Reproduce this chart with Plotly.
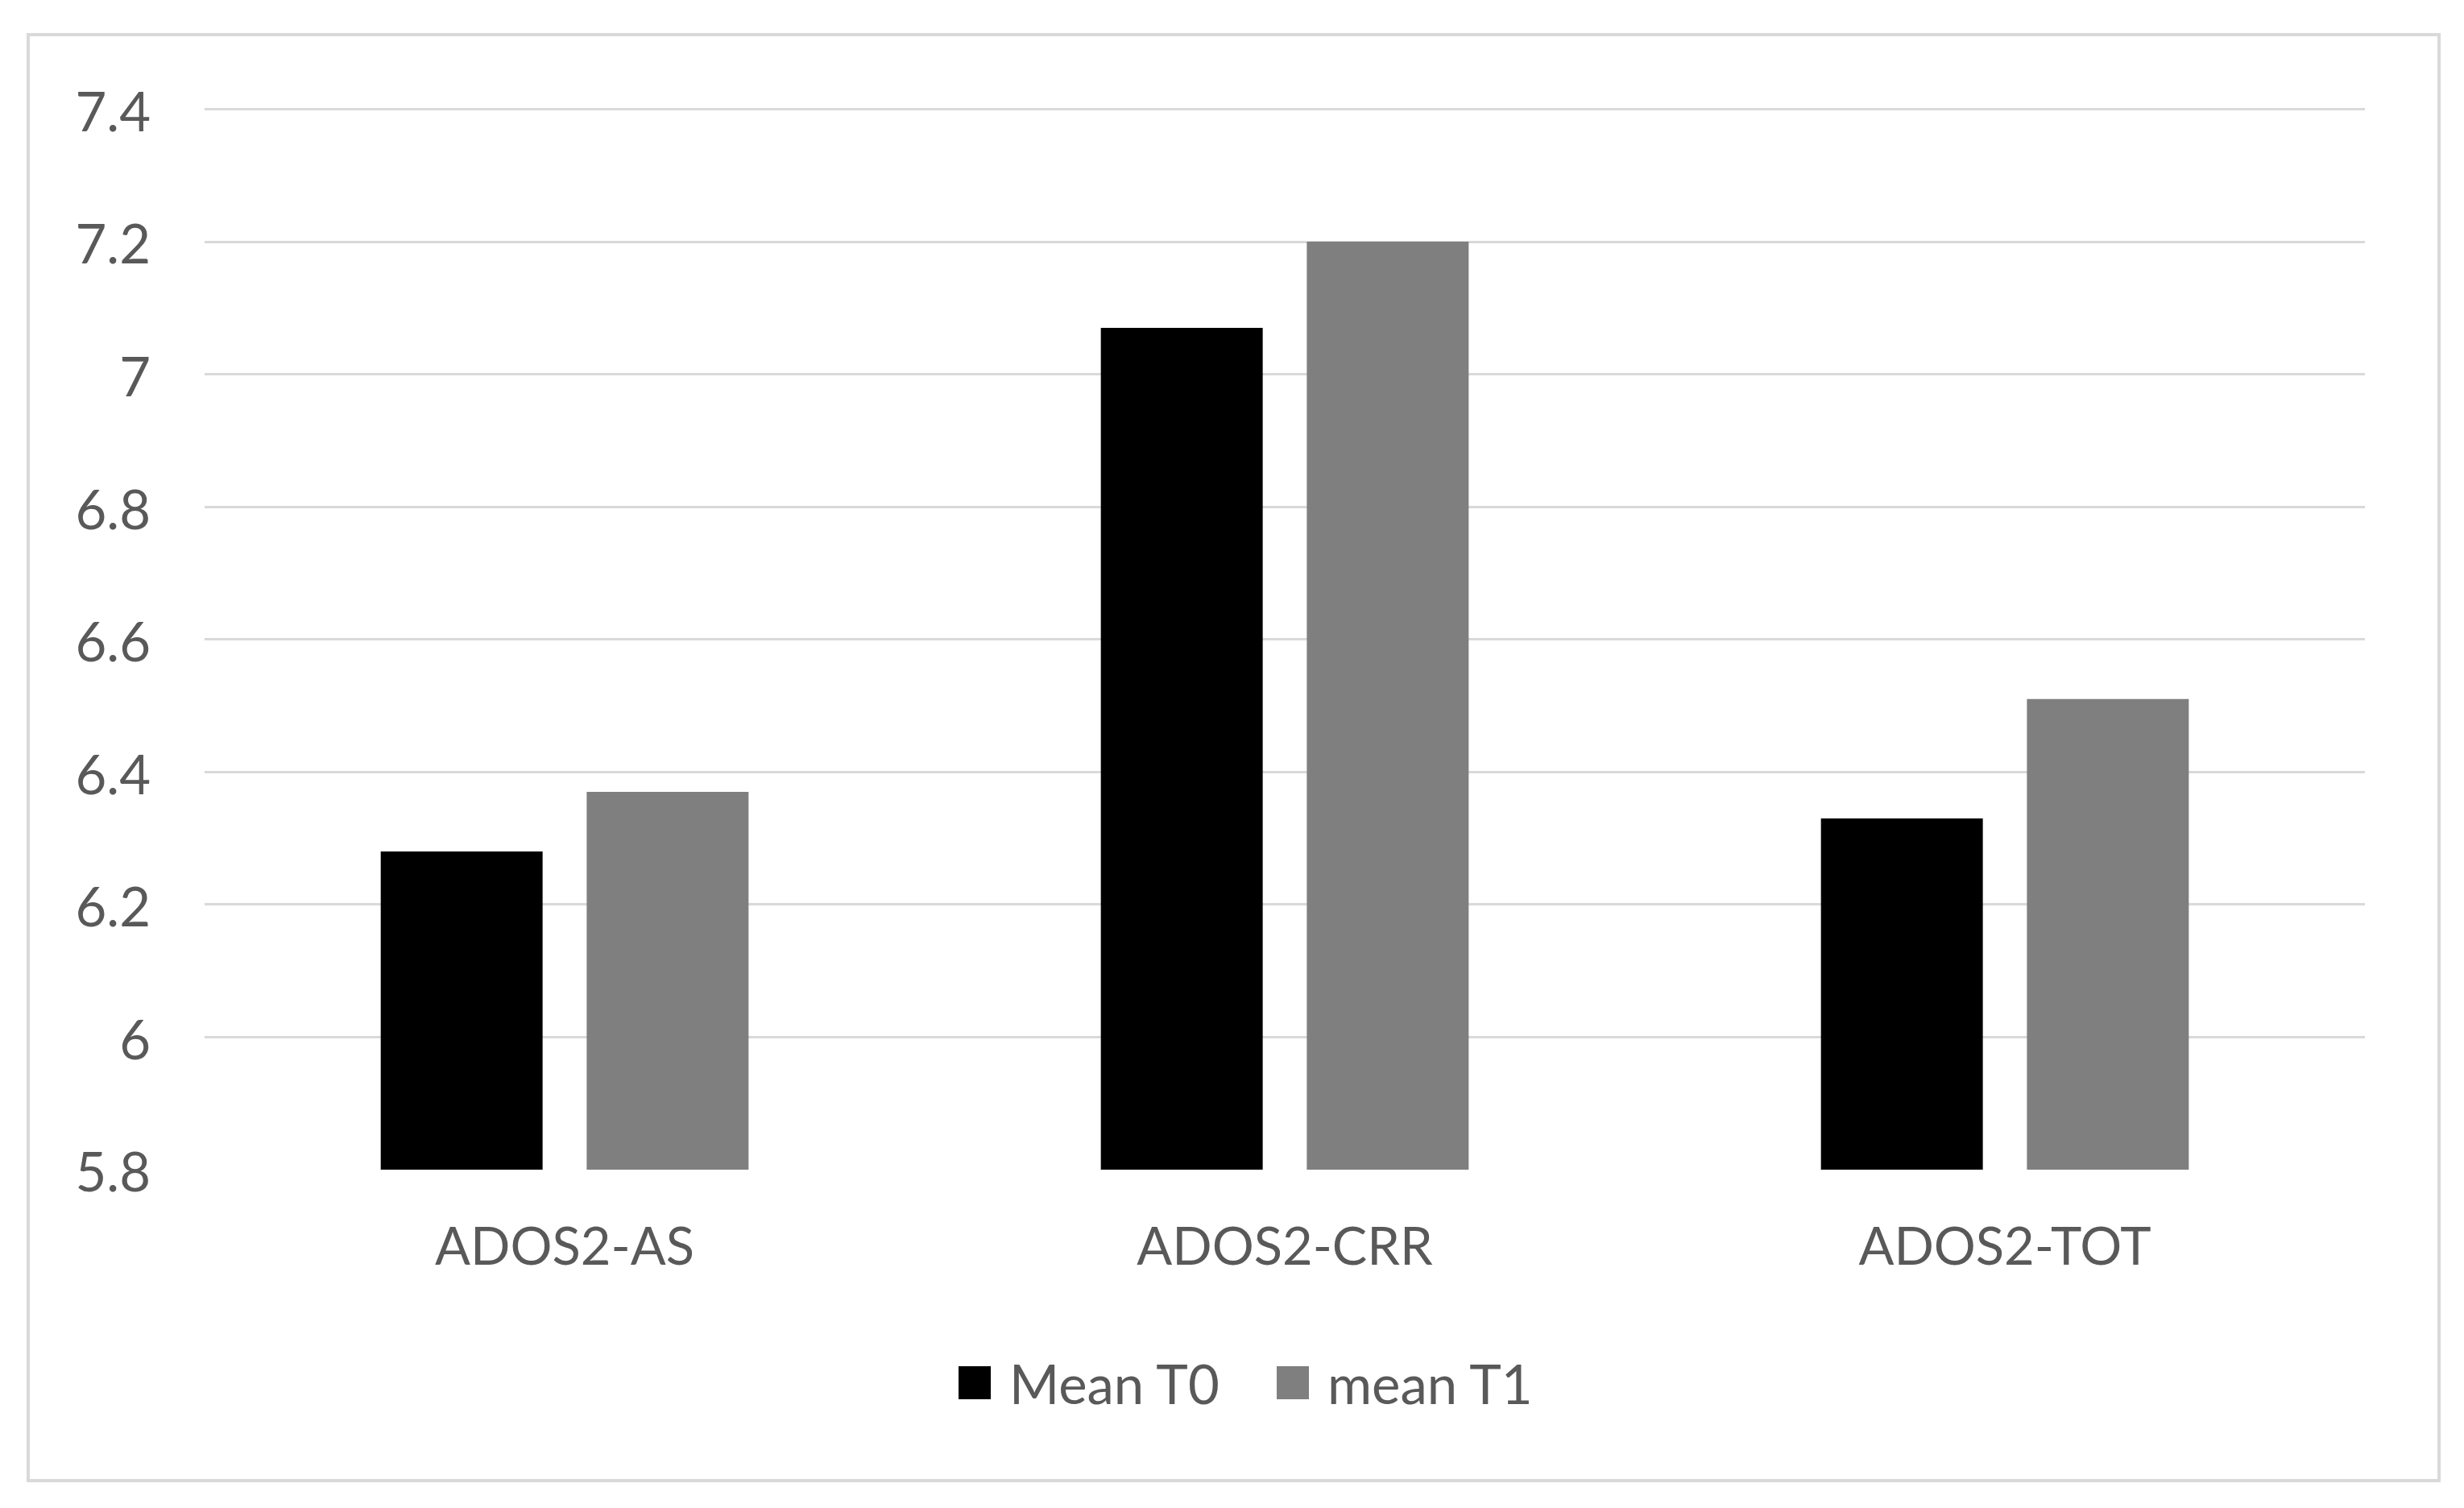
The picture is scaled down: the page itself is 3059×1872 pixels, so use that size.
import plotly.graph_objects as go

categories = ["ADOS2-AS", "ADOS2-CRR", "ADOS2-TOT"]
mean_t0 = [6.28, 7.07, 6.33]
mean_t1 = [6.37, 7.20, 6.51]
series_names = ["Mean T0", "mean T1"]
series_colors = ["#000000", "#7f7f7f"]
y_ticks = [5.8, 6.0, 6.2, 6.4, 6.6, 6.8, 7.0, 7.2, 7.4]
y_tick_labels = ["5.8", "6", "6.2", "6.4", "6.6", "6.8", "7", "7.2", "7.4"]
y_min, y_max = 5.8, 7.42

# page body has an 8px default margin; figure is sized to fill the rest
W, H = 3051, 1864
AX_BOTTOM = 1444                      # pixel row of 5.8
PX_PER_UNIT = (1444 - 127) / (7.4 - 5.8)
L = 246
R = W - 2928
B = H - AX_BOTTOM
T = round(AX_BOTTOM - PX_PER_UNIT * (y_max - y_min))
plot_w = W - L - R
plot_h = H - T - B


def px_x(p):
    return (p - L) / plot_w


def px_y(p):
    return (T + plot_h - p) / plot_h


font_family = "Lato, 'Open Sans', sans-serif"
text_color = "#595959"
grid_color = "#d9d9d9"

fig = go.Figure()
for name, vals, col in zip(series_names, [mean_t0, mean_t1], series_colors):
    fig.add_trace(go.Bar(name=name, x=categories, y=vals, showlegend=False,
                         marker=dict(color=col, line=dict(width=0))))

# outer chart border
fig.add_shape(type="rect", xref="paper", yref="paper",
              x0=px_x(27), x1=px_x(3020), y0=px_y(1830), y1=px_y(35),
              line=dict(color=grid_color, width=4), fillcolor="rgba(0,0,0,0)",
              layer="below")

# legend (square swatches + labels)
legend_sw = [(1182, 1222), (1577, 1617)]
legend_tx = [1244, 1639]
for (sx0, sx1), tx, name, col in zip(legend_sw, legend_tx, series_names, series_colors):
    fig.add_shape(type="rect", xref="paper", yref="paper",
                  x0=px_x(sx0), x1=px_x(sx1), y0=px_y(1729), y1=px_y(1688),
                  line=dict(width=0), fillcolor=col)
    fig.add_annotation(xref="paper", yref="paper", x=px_x(tx), y=px_y(1709),
                       xanchor="left", yanchor="middle", showarrow=False,
                       text=name, font=dict(size=67, color=text_color,
                                            family=font_family),
                       borderpad=0)

fig.update_layout(
    width=W, height=H,
    margin=dict(l=L, r=R, t=T, b=B),
    paper_bgcolor="white", plot_bgcolor="white",
    barmode="group", bargap=0.428, bargroupgap=0.214,
    font=dict(family=font_family, size=65, color=text_color),
    showlegend=False,
    xaxis=dict(showgrid=False, showline=False, ticks="", zeroline=False,
               tickfont=dict(size=65, color=text_color),
               ticklabelstandoff=52),
    yaxis=dict(range=[y_min, y_max], tickvals=y_ticks, ticktext=y_tick_labels,
               showgrid=True, gridcolor=grid_color, gridwidth=3,
               zeroline=False, showline=False, ticks="",
               tickfont=dict(size=67, color=text_color),
               ticklabelstandoff=66, ticklabelshift=4),
)

fig.write_html("out.html")
